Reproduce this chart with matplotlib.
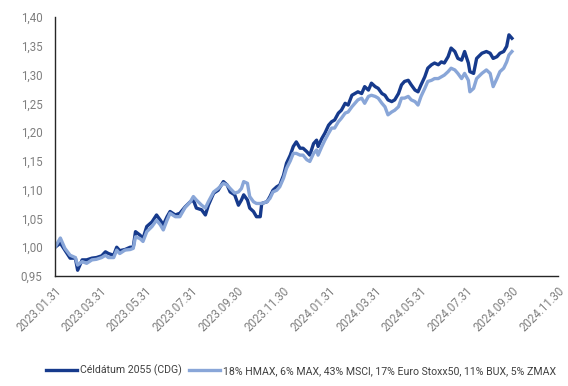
import numpy as np
import pandas as pd
import matplotlib
matplotlib.use('Agg')
import matplotlib.pyplot as plt
import matplotlib.dates as mdates
from matplotlib.ticker import FuncFormatter

# sampled observation dates (roughly weekly)
dates = [
    "2023-01-31", "2023-02-07", "2023-02-13", "2023-02-20", "2023-02-27", "2023-03-02",
    "2023-03-08", "2023-03-14", "2023-03-21", "2023-03-27", "2023-04-03", "2023-04-08",
    "2023-04-12", "2023-04-19", "2023-04-23", "2023-04-27", "2023-05-04", "2023-05-11",
    "2023-05-15", "2023-05-18", "2023-05-24", "2023-05-28", "2023-06-02", "2023-06-09",
    "2023-06-15", "2023-06-20", "2023-06-24", "2023-06-29", "2023-07-03", "2023-07-10",
    "2023-07-16", "2023-07-23", "2023-07-30", "2023-08-03", "2023-08-07", "2023-08-14",
    "2023-08-19", "2023-08-23", "2023-08-30", "2023-09-05", "2023-09-12", "2023-09-17",
    "2023-09-21", "2023-09-27", "2023-10-02", "2023-10-06", "2023-10-09", "2023-10-14",
    "2023-10-17", "2023-10-22", "2023-10-26", "2023-10-31", "2023-11-02", "2023-11-09",
    "2023-11-13", "2023-11-17", "2023-11-22", "2023-11-26", "2023-12-01", "2023-12-05",
    "2023-12-10", "2023-12-14", "2023-12-18", "2023-12-23", "2023-12-27", "2024-01-01",
    "2024-01-05", "2024-01-10", "2024-01-14", "2024-01-16", "2024-01-21", "2024-01-25",
    "2024-01-30", "2024-02-03", "2024-02-07", "2024-02-12", "2024-02-16", "2024-02-21",
    "2024-02-25", "2024-03-01", "2024-03-05", "2024-03-09", "2024-03-14", "2024-03-18",
    "2024-03-23", "2024-03-27", "2024-04-01", "2024-04-05", "2024-04-10", "2024-04-14",
    "2024-04-18", "2024-04-23", "2024-04-27", "2024-05-02", "2024-05-06", "2024-05-10",
    "2024-05-15", "2024-05-19", "2024-05-24", "2024-05-28", "2024-06-01", "2024-06-06",
    "2024-06-10", "2024-06-15", "2024-06-19", "2024-06-24", "2024-06-28", "2024-07-02",
    "2024-07-07", "2024-07-11", "2024-07-16", "2024-07-20", "2024-07-25", "2024-07-29",
    "2024-08-03", "2024-08-05", "2024-08-10", "2024-08-14", "2024-08-21", "2024-08-27",
    "2024-09-01", "2024-09-05", "2024-09-10", "2024-09-14", "2024-09-19", "2024-09-23",
    "2024-09-26", "2024-09-30",
]

# Céldátum 2055 (CDG)
cdg = [
    1.000, 1.007, 0.995, 0.981, 0.981, 0.960,
    0.978, 0.978, 0.981, 0.982, 0.985, 0.992,
    0.989, 0.986, 1.000, 0.994, 0.996, 1.000,
    1.000, 1.027, 1.021, 1.015, 1.036, 1.044,
    1.056, 1.047, 1.039, 1.053, 1.062, 1.056,
    1.059, 1.070, 1.079, 1.082, 1.068, 1.065,
    1.056, 1.073, 1.094, 1.099, 1.114, 1.108,
    1.096, 1.091, 1.073, 1.082, 1.091, 1.082,
    1.068, 1.062, 1.053, 1.053, 1.076, 1.079,
    1.088, 1.099, 1.105, 1.108, 1.125, 1.146,
    1.160, 1.175, 1.183, 1.172, 1.172, 1.166,
    1.160, 1.180, 1.186, 1.175, 1.189, 1.198,
    1.212, 1.218, 1.221, 1.233, 1.238, 1.250,
    1.247, 1.264, 1.267, 1.270, 1.267, 1.279,
    1.273, 1.285, 1.279, 1.276, 1.267, 1.264,
    1.256, 1.253, 1.256, 1.267, 1.282, 1.288,
    1.290, 1.282, 1.273, 1.270, 1.282, 1.296,
    1.311, 1.317, 1.320, 1.317, 1.322, 1.320,
    1.331, 1.346, 1.340, 1.328, 1.325, 1.340,
    1.320, 1.305, 1.302, 1.328, 1.337, 1.340,
    1.337, 1.328, 1.331, 1.337, 1.340, 1.349,
    1.369, 1.363,
]

# 18% HMAX, 6% MAX, 43% MSCI, 17% Euro Stoxx50, 11% BUX, 5% ZMAX
bench = [
    1.000, 1.016, 0.998, 0.986, 0.982, 0.969,
    0.975, 0.972, 0.978, 0.979, 0.982, 0.986,
    0.982, 0.982, 0.995, 0.989, 0.995, 0.996,
    0.998, 1.018, 1.015, 1.010, 1.027, 1.036,
    1.047, 1.039, 1.030, 1.047, 1.059, 1.053,
    1.053, 1.069, 1.079, 1.088, 1.082, 1.073,
    1.068, 1.079, 1.096, 1.102, 1.111, 1.108,
    1.102, 1.094, 1.096, 1.102, 1.114, 1.111,
    1.088, 1.079, 1.076, 1.076, 1.076, 1.079,
    1.085, 1.096, 1.099, 1.105, 1.120, 1.137,
    1.150, 1.163, 1.163, 1.160, 1.160, 1.152,
    1.149, 1.163, 1.169, 1.160, 1.175, 1.186,
    1.198, 1.207, 1.207, 1.218, 1.224, 1.233,
    1.235, 1.244, 1.250, 1.256, 1.259, 1.250,
    1.262, 1.264, 1.262, 1.259, 1.250, 1.244,
    1.230, 1.235, 1.238, 1.244, 1.259, 1.259,
    1.262, 1.256, 1.253, 1.247, 1.262, 1.276,
    1.288, 1.290, 1.293, 1.293, 1.296, 1.299,
    1.305, 1.311, 1.308, 1.302, 1.293, 1.302,
    1.290, 1.270, 1.276, 1.293, 1.302, 1.308,
    1.302, 1.279, 1.293, 1.305, 1.311, 1.322,
    1.334, 1.340,
]

tick_dates = ["2023-01-31", "2023-03-31", "2023-05-31", "2023-07-31", "2023-09-30",
              "2023-11-30", "2024-01-31", "2024-03-31", "2024-05-31", "2024-07-31",
              "2024-09-30", "2024-11-30"]
y_ticks = [0.95, 1.00, 1.05, 1.10, 1.15, 1.20, 1.25, 1.30, 1.35, 1.40]

labels = ["Céldátum 2055 (CDG)",
          "18% HMAX, 6% MAX, 43% MSCI, 17% Euro Stoxx50, 11% BUX, 5% ZMAX"]
colors = ["#163a8c", "#89a6d8"]

plt.rcParams['font.family'] = ['Roboto', 'DejaVu Sans']

x = pd.to_datetime(dates)
ticks = pd.to_datetime(tick_dates)

fig = plt.figure(figsize=(5.68, 3.86), dpi=100)
ax = fig.add_axes([0.097, 0.285, 0.885, 0.671])

ax.plot(x, cdg, color=colors[0], lw=2.4, label=labels[0], solid_joinstyle='round')
ax.plot(x, bench, color=colors[1], lw=2.4, label=labels[1], solid_joinstyle='round')

ax.set_xlim(ticks[0], ticks[-1])
ax.set_ylim(0.95, 1.40)
ax.set_xticks(ticks)
ax.set_xticklabels([d.strftime('%Y.%m.%d') for d in ticks], rotation=45,
                   ha='right', va='top', rotation_mode='anchor')
ax.set_yticks(y_ticks)
ax.yaxis.set_major_formatter(FuncFormatter(lambda v, _: f"{v:.2f}".replace('.', ',')))

ax.tick_params(axis='both', length=0, colors='#7f7f7f', labelsize=8.3)
ax.tick_params(axis='x', pad=6)
ax.tick_params(axis='y', pad=9)
for side in ['top', 'right']:
    ax.spines[side].set_visible(False)
for side in ['left', 'bottom']:
    ax.spines[side].set_color('#262626')
    ax.spines[side].set_linewidth(1.0)

fig.legend(loc='lower center', bbox_to_anchor=(0.53, 0.0), ncol=2, frameon=False,
           fontsize=7.6, handlelength=3.0, handletextpad=0.3, columnspacing=0.6,
           labelcolor='#404040')

fig.savefig('out.png', dpi=100)
